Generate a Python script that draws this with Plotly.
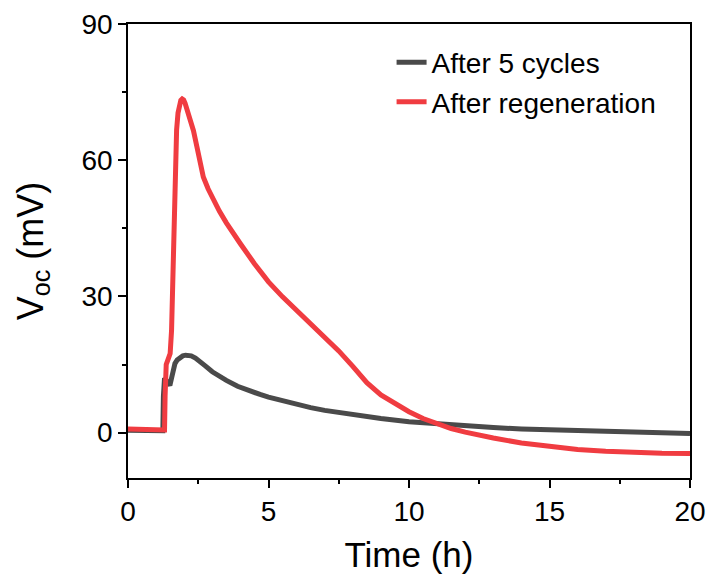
import plotly.graph_objects as go

# Data
t_cycles = [0, 0.5, 1.0, 1.24, 1.26, 1.3, 1.4, 1.49, 1.58, 1.67, 1.75, 1.85, 1.95, 2.05, 2.14, 2.25, 2.4, 2.55,
            2.75, 3.0, 3.27, 3.5, 3.9, 4.3, 4.7, 5, 5.5, 6, 6.5, 7, 7.5, 8, 9, 10, 11, 12, 13, 14, 15, 16, 17, 18, 19, 20]
v_cycles = [0.5, 0.5, 0.4, 0.4, 8.0, 12.0, 11.2, 10.4, 12.8, 15.2, 16.0, 16.6, 16.9, 17.05, 17.1, 16.9, 16.4, 15.8,
            14.7, 13.4, 12.3, 11.5, 10.2, 9.2, 8.4, 7.8, 7.0, 6.2, 5.5, 4.9, 4.4, 3.9, 3.1, 2.4, 1.9, 1.5, 1.1, 0.8, 0.6, 0.4, 0.25, 0.1, 0.0, -0.2]

t_regen = [0, 0.5, 1.0, 1.3, 1.32, 1.36, 1.42, 1.5, 1.55, 1.6, 1.67, 1.73, 1.78, 1.83, 1.88, 1.93, 1.98, 2.03,
           2.1, 2.2, 2.33, 2.45, 2.57, 2.68, 2.85, 3.0, 3.25, 3.5, 3.75, 4.0, 4.5, 5, 5.5, 6, 6.5, 7, 7.5, 8, 8.5,
           9, 9.5, 10, 10.5, 11, 11.5, 12, 12.5, 13, 14, 15, 16, 17, 18, 19, 20]
v_regen = [0.8, 0.8, 0.7, 0.6, 8.0, 15.0, 16.0, 17.4, 22.5, 38.0, 55.6, 66.7, 70.4, 72.3, 73.2, 73.5, 73.3, 72.6,
           71.2, 69.2, 66.5, 63.0, 59.3, 56.3, 53.7, 51.7, 48.8, 46.2, 43.8, 41.6, 37.2, 33.2, 29.9, 27.0, 24.1, 21.1, 18.0, 14.6, 11.0,
           8.3, 6.3, 4.6, 3.1, 1.9, 0.9, 0.1, -0.6, -1.2, -2.3, -3.1, -3.7, -4.1, -4.4, -4.55, -4.6]

x_ticks = [0, 5, 10, 15, 20]
y_ticks = [0, 30, 60, 90]

font_family = "Liberation Sans, Arial, sans-serif"

fig = go.Figure()
fig.add_trace(go.Scatter(x=t_cycles, y=v_cycles, mode="lines", name="After 5 cycles",
                         line=dict(color="#4a4a4a", width=5)))
fig.add_trace(go.Scatter(x=t_regen, y=v_regen, mode="lines", name="After regeneration",
                         line=dict(color="#f03c41", width=5)))

axis_common = dict(showline=True, linecolor="black", linewidth=1.5, mirror=True,
                   ticks="outside", ticklen=8, tickwidth=1.5, tickcolor="black",
                   showgrid=False, zeroline=False, automargin=False,
                   tickfont=dict(size=28, color="black", family=font_family))

fig.update_xaxes(range=[0, 20], tickvals=x_ticks,
                 minor=dict(ticks="outside", ticklen=4, tickwidth=1.5, tickcolor="black", dtick=2.5, tick0=0),
                 title=dict(text="Time (h)", font=dict(size=35, color="black", family=font_family), standoff=16),
                 **axis_common)
fig.update_yaxes(range=[-10, 90], tickvals=y_ticks,
                 minor=dict(ticks="outside", ticklen=4, tickwidth=1.5, tickcolor="black", dtick=15, tick0=0),
                 title=dict(text="V<sub>oc</sub> (mV)", font=dict(size=36, color="black", family=font_family), standoff=27),
                 **axis_common)

fig.update_layout(
    width=710, height=584,
    margin=dict(l=128, r=20, t=24, b=106),
    paper_bgcolor="white", plot_bgcolor="white",
    font=dict(family=font_family, color="black"),
    legend=dict(x=0.469, y=0.97, xanchor="left", yanchor="top",
                font=dict(size=28, color="black", family=font_family),
                bgcolor="rgba(0,0,0,0)", itemwidth=30, tracegroupgap=0),
)

fig.write_html("out.html")
